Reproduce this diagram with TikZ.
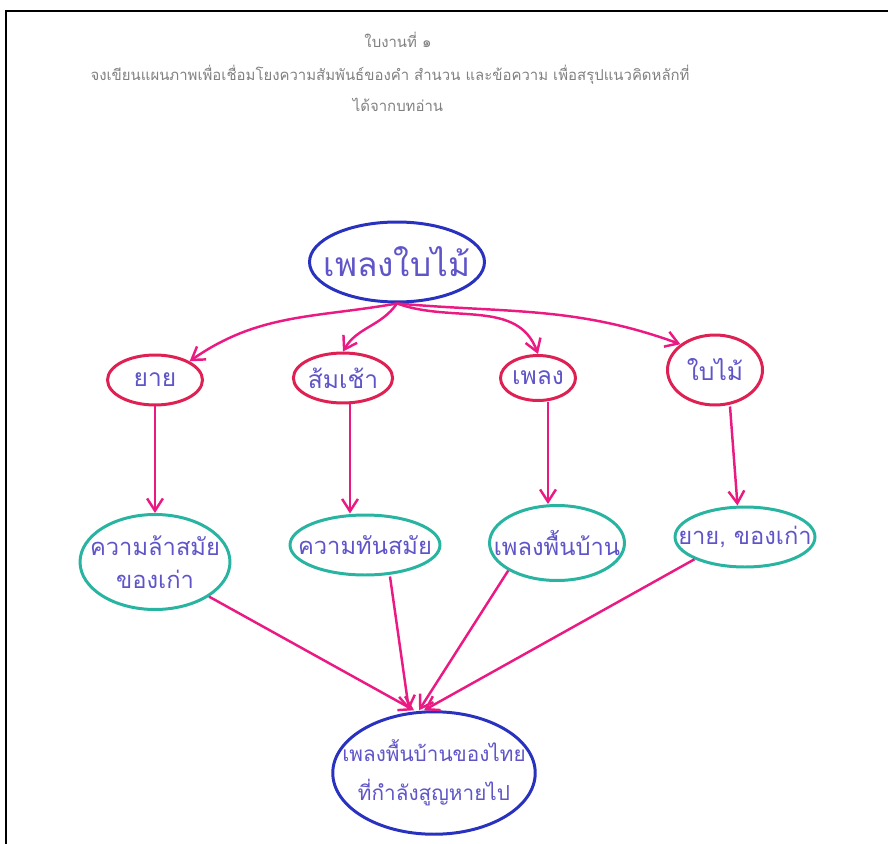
\documentclass[tikz,border=0pt]{standalone}
\usepackage{fontspec}
\newfontfamily\thaifont[Script=Thai]{Loma}
\usetikzlibrary{shapes.geometric,arrows.meta}

\definecolor{penblue}{RGB}{40,50,190}
\definecolor{penred}{RGB}{222,32,82}
\definecolor{penteal}{RGB}{40,180,160}
\definecolor{penpink}{RGB}{235,25,130}
\definecolor{penink}{RGB}{95,85,200}

\begin{document}
\begin{tikzpicture}[
    x=0.02cm, y=-0.02cm,
    headnode/.style={font=\thaifont\fontsize{8.5}{11}\selectfont, text=black!50},
    mainnode/.style={ellipse, draw=penblue, line width=1.7pt, inner xsep=-0.5cm, inner ysep=-0.3cm, text=penink, align=center},
    topicnode/.style={ellipse, draw=penred, line width=1.7pt, inner sep=0pt, text=penink,
        font=\thaifont\fontsize{14}{16}\selectfont},
    ideanode/.style={ellipse, draw=penteal, line width=1.7pt, inner xsep=-0.5cm, inner ysep=-0.3cm, text=penink, align=center,
        font=\thaifont\fontsize{13.5}{19}\selectfont},
    conn/.style={draw=penpink, line width=1.4pt, -{Straight Barb[length=7pt,width=9pt]}}
]
\useasboundingbox (0,0) rectangle (888,844);

% Page frame
\draw[line width=1.5pt] (6,844) -- (6,11) -- (888,11);

% Worksheet heading
\node[headnode] (title) at (398,40) {ใบงานที่ ๑};
\node[headnode] (task) at (390,75) {จงเขียนแผนภาพเพื่อเชื่อมโยงความสัมพันธ์ของคำ สำนวน และข้อความ เพื่อสรุปแนวคิดหลักที่};
\node[headnode] (task2) at (398,105) {ได้จากบทอ่าน};

% Main topic
\node[mainnode, minimum width=3.5cm, minimum height=1.6cm, font=\thaifont\fontsize{19}{22}\selectfont] (song) at (397,262) {เพลงใบไม้};

% Words from the text
\node[topicnode, minimum width=1.9cm, minimum height=1.0cm] (yai) at (155,380) {ยาย};
\node[topicnode, minimum width=1.9cm, minimum height=1.0cm] (som) at (343,378) {ส้มเช้า};
\node[topicnode, minimum width=1.5cm, minimum height=0.9cm] (phleng) at (538,378) {เพลง};
\node[topicnode, minimum width=1.9cm, minimum height=1.4cm] (leaf) at (715,370) {ใบไม้};

% Meanings
\node[ideanode, minimum width=3.0cm, minimum height=1.9cm] (old) at (155,562) {ความล้าสมัย\\ของเก่า};
\node[ideanode, minimum width=3.0cm, minimum height=1.2cm] (modern) at (365,545) {ความทันสมัย};
\node[ideanode, minimum width=2.7cm, minimum height=1.5cm] (folk) at (557,543) {เพลงพื้นบ้าน};
\node[ideanode, minimum width=2.8cm, minimum height=1.2cm] (granny) at (745,537) {ยาย, ของเก่า};

% Main idea
\node[mainnode, minimum width=4.05cm, minimum height=2.45cm, font=\thaifont\fontsize{11.8}{22}\selectfont] (idea) at (434,773) {เพลงพื้นบ้านของไทย\\ที่กำลังสูญหายไป};

% Connectors
\draw[conn] (song.south) to[out=190,in=35] (yai.north east);
\draw[conn] (song.south) to[out=235,in=60] (som.north);
\draw[conn] (song.south) to[out=-20,in=110] (phleng.north);
\draw[conn] (song.south) to[out=-5,in=160] (leaf.north west);

\draw[conn] (yai.south) -- (old.north);
\draw[conn] ([xshift=0.14cm]som.south) -- ([xshift=0.14cm]som.south |- modern.north);
\draw[conn] ([xshift=0.2cm]phleng.south) -- ([xshift=0.2cm]phleng.south |- folk.north);
\draw[conn] ([xshift=0.3cm]leaf.south) -- ([xshift=-0.15cm]granny.north);

\draw[conn] (old.south east) -- ([xshift=-0.4cm]idea.north);
\draw[conn] ([xshift=0.5cm]modern.south) -- ([xshift=-0.5cm]idea.north);
\draw[conn] (folk.south west) -- ([xshift=-0.3cm]idea.north);
\draw[conn] (granny.south west) -- ([xshift=-0.2cm]idea.north);

\end{tikzpicture}
\end{document}
